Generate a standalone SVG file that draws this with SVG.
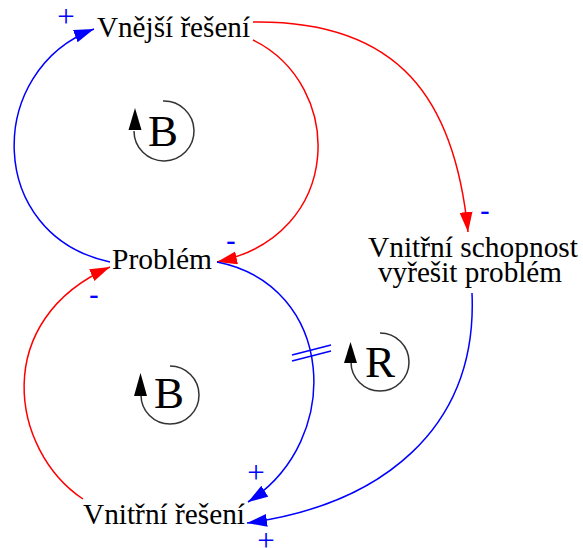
<svg xmlns="http://www.w3.org/2000/svg" width="583" height="548" viewBox="0 0 583 548">
<style>
.lbl{font-family:"Liberation Serif","Times New Roman",serif;font-size:29px;fill:#000}
.pol{font-family:"Liberation Serif","Times New Roman",serif;font-size:31px;fill:#0000ff;text-anchor:middle}
.neg{font-weight:bold;font-size:28px}
.loop{font-family:"Liberation Serif","Times New Roman",serif;font-size:45px;fill:#000;text-anchor:middle}
.b{fill:none;stroke:#0000ff;stroke-width:1.5}
.r{fill:none;stroke:#ff0000;stroke-width:1.5}
.la{fill:none;stroke:#333;stroke-width:1.5}
</style>
<defs>
<marker id="ab" markerUnits="userSpaceOnUse" markerWidth="22" markerHeight="14" refX="20" refY="6.5" orient="auto"><path d="M0,0 L20,6.5 L0,13 z" fill="#0000ff"/></marker>
<marker id="ar" markerUnits="userSpaceOnUse" markerWidth="22" markerHeight="14" refX="20" refY="6.5" orient="auto"><path d="M0,0 L20,6.5 L0,13 z" fill="#ff0000"/></marker>
</defs>
<g id="connectors">
<path class="b" d="M110,262 C-15,235 -15,70 94,29" marker-end="url(#ab)"/>
<path class="r" d="M253,40 C345,85 345,235 217,262" marker-end="url(#ar)"/>
<path class="r" d="M253,22 C400,20 455,100 468,232" marker-end="url(#ar)"/>
<path class="b" d="M472,293 C478,430 380,505 247,523" marker-end="url(#ab)"/>
<path class="b" d="M217,262 C335,285 345,440 248,502" marker-end="url(#ab)"/>
<path class="r" d="M83,499 C10,450 -10,320 110,267" marker-end="url(#ar)"/>
<line class="b" x1="292" y1="355" x2="331" y2="345"/>
<line class="b" x1="292" y1="361" x2="331" y2="351"/>
</g>
<g id="node-vnejsi"><text class="lbl" x="97" y="37" textLength="153" lengthAdjust="spacingAndGlyphs">Vnější řešení</text></g>
<g id="node-problem"><text class="lbl" x="112" y="269" textLength="100" lengthAdjust="spacingAndGlyphs">Problém</text></g>
<g id="node-schopnost"><text class="lbl" x="368" y="257" textLength="210" lengthAdjust="spacingAndGlyphs">Vnitřní schopnost</text><text class="lbl" x="378" y="282" textLength="184" lengthAdjust="spacingAndGlyphs">vyřešit problém</text></g>
<g id="node-vnitrni"><text class="lbl" x="83" y="524" textLength="162" lengthAdjust="spacingAndGlyphs">Vnitřní řešení</text></g>
<g id="polarities">
<text class="pol" x="66" y="27">+</text>
<text class="pol neg" x="231" y="249">-</text>
<text class="pol neg" x="94" y="303">-</text>
<text class="pol neg" x="485" y="219">-</text>
<text class="pol" x="256" y="483">+</text>
<text class="pol" x="266" y="551">+</text>
</g>
<g id="loop-b1">
<path class="la" d="M163,101 A30,30 0 1 1 134,131"/>
<path d="M135,108 L128.5,130 L141.5,130 z" fill="#000"/>
<text class="loop" x="163" y="146">B</text>
</g>
<g id="loop-b2">
<path class="la" d="M170,366 A29,29 0 1 1 141,395"/>
<path d="M140.5,373 L134,396 L147,396 z" fill="#000"/>
<text class="loop" x="169" y="408">B</text>
</g>
<g id="loop-r">
<path class="la" d="M380,333 A29,29 0 1 1 351,362"/>
<path d="M350.5,342 L344,363 L357,363 z" fill="#000"/>
<text class="loop" x="380" y="377">R</text>
</g>
</svg>
